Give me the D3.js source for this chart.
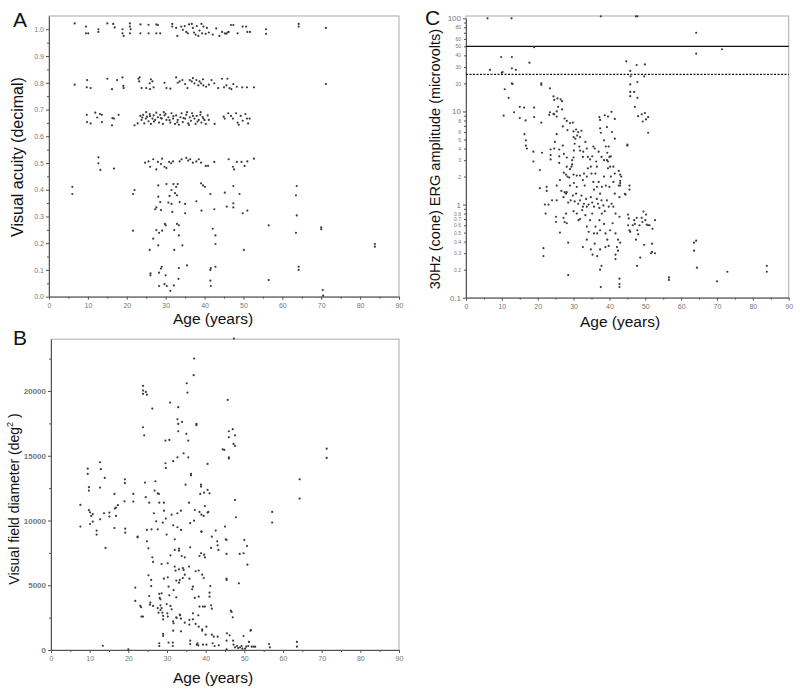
<!DOCTYPE html>
<html><head><meta charset="utf-8">
<script src="https://cdn.jsdelivr.net/npm/d3@7"></script>
<style>body{margin:0;background:#fff} svg{display:block;font-family:Arial,"Liberation Sans",sans-serif}</style>
</head><body><svg id="c" width="800" height="698"></svg>
<script>
// ---------- DATA ----------
const ageTicks = [0,10,20,30,40,50,60,70,80,90];
const acuityTicks = [0,0.1,0.2,0.3,0.4,0.5,0.6,0.7,0.8,0.9,1.0];
const fieldTicks = [0,5000,10000,15000,20000];
const ergMajor = [0.1,1,10,100];
const ergMinorLabels = [0.2,0.3,0.4,0.5,0.6,0.7,0.8,2,3,4,5,6,8,20,30,40,50,60,80];
const ergRefSolid = 50;
const ergRefDotted = 25;

// Panel A: [age, visual acuity]
const acuityData = [
[6.6,1.022],[9.5,1.01],[9.5,0.985],[10.1,0.985],[12.7,1.0],[12.7,0.99],[15,1.022],[16.5,1.02],[16.9,1.007],[18.9,1.0],[18.9,0.985],[19.2,0.975],[20.8,1.022],[20.8,1.01],[21,1.0],[20.8,0.985],[23.5,1.018],[23.5,0.985],[25.6,1.017],[25.6,0.985],[27.6,1.018],[28,1.016],[27.6,0.985],[28.6,0.985],[31.7,1.02],[31.7,1.01],[32.7,1.005],[33,0.975],[34,1.01],[34.4,0.998],[34.9,1.012],[35.3,0.99],[35.7,0.985],[36,1.018],[36.7,1.02],[37,1.005],[37.3,0.988],[37.7,0.98],[38,1.012],[38.4,0.975],[38.7,0.995],[39.2,1.02],[39.4,0.985],[39.7,1.01],[40.3,0.983],[40.6,1.005],[41.1,0.988],[42.1,0.98],[43,1.003],[43.8,0.975],[44.5,0.99],[45.2,0.985],[45.6,0.983],[45.9,0.988],[46.2,0.99],[46.8,1.016],[47.4,1.016],[48.5,0.985],[49.8,1.01],[50.7,1.01],[51,0.99],[51.7,0.99],[55.8,1.0],[55.8,0.983],[64.2,1.02],[64.2,1.01],[71.2,1.005],
[6.6,0.793],[9.8,0.81],[9.7,0.783],[10.7,0.78],[15,0.815],[16.2,0.776],[17.5,0.81],[18.9,0.82],[19.1,0.788],[19.2,0.78],[23,0.815],[23.2,0.805],[23.3,0.82],[23.8,0.78],[25,0.78],[25.9,0.798],[26.2,0.813],[26.6,0.805],[26.9,0.783],[26,0.776],[29.7,0.8],[30.2,0.78],[31.2,0.778],[32.7,0.82],[33.1,0.8],[33.6,0.805],[34.3,0.81],[35,0.795],[35.6,0.78],[36.2,0.81],[36.7,0.805],[37,0.817],[37.4,0.798],[37.9,0.81],[38.4,0.79],[38.7,0.805],[39.1,0.798],[39.6,0.813],[39.7,0.79],[40.4,0.785],[41.1,0.793],[41.8,0.81],[42.5,0.798],[43.5,0.78],[44.5,0.815],[45,0.783],[45.6,0.79],[45.9,0.815],[46.4,0.78],[46.9,0.776],[47.4,0.795],[48.3,0.785],[49.7,0.783],[50.9,0.783],[52.7,0.783],[71.2,0.795],
[9.7,0.68],[9.8,0.653],[10.7,0.648],[11.9,0.688],[12.4,0.67],[13.1,0.683],[13.6,0.68],[13.6,0.653],[16.3,0.668],[16.2,0.641],[16.7,0.666],[17.9,0.68],[22,0.641],[22.8,0.648],[23.5,0.676],[23.8,0.661],[24.2,0.68],[24.5,0.648],[24.9,0.666],[25.2,0.673],[25.6,0.656],[25.9,0.683],[26.2,0.646],[26.6,0.666],[26.9,0.678],[27.3,0.661],[27.6,0.688],[28,0.671],[28.3,0.651],[28.6,0.68],[29,0.666],[29.3,0.646],[29.7,0.678],[30.2,0.661],[30.7,0.671],[31.2,0.651],[31.5,0.686],[31.9,0.666],[32.4,0.646],[32.7,0.678],[33.1,0.661],[33.4,0.643],[33.8,0.671],[34.1,0.686],[34.4,0.653],[35,0.666],[35.3,0.68],[35.8,0.648],[36.2,0.671],[36.5,0.658],[36.8,0.686],[37.4,0.666],[37.7,0.646],[38,0.676],[38.5,0.661],[38.9,0.68],[39.2,0.651],[39.7,0.666],[40.3,0.646],[40.8,0.678],[41.1,0.661],[42.6,0.646],[44.9,0.673],[45.2,0.666],[46.1,0.686],[46.8,0.676],[47.3,0.666],[48.1,0.686],[48.5,0.651],[48.8,0.643],[49.3,0.676],[49.8,0.658],[50.5,0.683],[50.9,0.666],[51.2,0.648],[51.6,0.666],
[24,0.67],[26,0.675],[27,0.655],[28.8,0.668],[30,0.684],[31,0.66],[32,0.675],[33,0.652],[34.6,0.668],[36,0.642],[37,0.676],[38.2,0.655],[39.5,0.672],[40,0.66],[25,0.69],[29.5,0.69],[35.5,0.69],[39,0.69],
[12.7,0.521],[12.7,0.499],[13.2,0.474],[16.7,0.479],[24.7,0.501],[25.6,0.506],[26,0.486],[26.8,0.514],[27.6,0.476],[28,0.504],[28.8,0.496],[29.1,0.516],[29.7,0.486],[30.2,0.481],[30.9,0.504],[31.4,0.499],[31.9,0.506],[33.6,0.506],[34.1,0.514],[35.3,0.519],[35.8,0.509],[36.3,0.514],[37,0.501],[37.9,0.506],[38.5,0.514],[39.1,0.501],[40.3,0.489],[40.9,0.489],[42.5,0.504],[46.2,0.514],[47.3,0.486],[47.6,0.476],[48.3,0.504],[49.5,0.504],[50.3,0.489],[51,0.506],[52.7,0.516],
[6.0,0.411],[6.0,0.384],[21.6,0.384],[22,0.399],[21.6,0.247],[28.1,0.416],[28.1,0.374],[27.6,0.334],[27.3,0.327],[28.6,0.354],[28.8,0.324],[30.2,0.421],[30.7,0.352],[31,0.377],[31.5,0.399],[31.5,0.347],[31.7,0.317],[32,0.421],[32.4,0.387],[32.7,0.411],[32.9,0.379],[33.1,0.421],[33.6,0.354],[35,0.347],[35,0.312],[37.9,0.357],[39.1,0.424],[39.6,0.416],[40.1,0.411],[39.2,0.322],[41.5,0.384],[42.5,0.327],[45.2,0.389],[45.7,0.337],[47.4,0.414],[47.4,0.349],[47.4,0.334],[49,0.384],[49.8,0.312],[51,0.322],[63.7,0.414],[63.5,0.379],[63.7,0.304],
[26.8,0.217],[27.6,0.249],[28.3,0.239],[29.1,0.247],[29.8,0.272],[30,0.267],[32.2,0.249],[32.9,0.272],[33.4,0.267],[33.4,0.229],[34.3,0.192],[32.2,0.175],[28.1,0.192],[25.9,0.175],[42.1,0.254],[42.8,0.229],[42.8,0.197],[50.1,0.175],[56.5,0.267],[63.5,0.239],[70,0.259],[70,0.252],[83.8,0.197],[83.8,0.187],
[26.1,0.087],[26.1,0.08],[28.8,0.105],[29,0.112],[28.3,0.09],[30,0.08],[28.3,0.04],[29.7,0.047],[30.3,0.04],[31.2,0.022],[32.1,0.042],[33.3,0.067],[33.4,0.107],[35.5,0.117],[41.6,0.107],[41.5,0.1],[41.5,0.06],[41.6,0.04],[42.8,0.112],[64.2,0.112],[64.2,0.1],[56.5,0.062],[70.4,0.025],[70.5,0.004]
];

// Panel B: [age, visual field]
const fieldData = [
[7.6,11200],[7.6,9530],[9.5,14000],[9.5,13600],[9.8,12570],[9.8,12310],[9.8,10800],[10.1,9730],[10.1,10630],[10.4,10350],[10.8,9910],[10.8,10500],[11.8,9220],[11.8,8910],[12.7,14500],[12.9,13960],[12.7,12540],[12.7,10090],[13.7,10560],[13.9,13290],[13.4,330],[14.1,7880],[15.1,10610],[15.1,10300],[16.4,12050],[16.4,9420],[16.5,10920],[16.8,11000],[17.3,11180],[16.8,10350],[19.1,13180],[19.1,12880],[19,11480],[19.2,9370],[19.2,9060],[20,50],[21.3,12050],[21.3,11460],[21.8,4820],[21.8,3790],[22.4,8750],[22.4,8700],[23.1,3400],[23.3,3300],[23.4,2580],[23.8,2580],[23.8,20400],[23.8,20030],[23.8,19780],[24.5,19930],[24.8,19720],[23.8,17200],[24.1,16580],[24.3,12930],[24.5,11800],[24.8,9270],[24.8,8390],[25.2,7850],[25.2,5770],[25.4,11380],[25.9,4940],[25.4,4170],[25.7,3660],[25.6,3500],[26.4,3400],[25.9,5410],[26.2,18640],[26,9320],[26.2,7160],[26.4,6800],[26.6,10560],[26.8,12310],[27,13030],[27.2,9940],[27.6,12100],[27.9,12050],[28,11380],[27.6,9320],[28,4330],[28.1,4020],[27.6,3240],[27.8,2880],[28,520],[28,310],[28.6,4380],[28.3,3910],[28.3,3450],[28.6,3240],[28.3,3090],[28.8,2880],[29,2630],[29,2370],[29.2,5510],[28.6,6640],[28.9,9840],[29.2,10760],[29.2,11380],[29,1240],[29,1080],[29.6,16170],[29.6,14420],[29.7,14060],[29.7,10150],[29.9,8910],[29.9,3550],[30.1,2830],[30.2,2580],[30.4,570],[30.2,6700],[30.2,5610],[30.4,4890],[30.6,4220],[30.8,19110],[30.6,16220],[30.9,7310],[30.9,3400],[31.2,3140],[31.2,10450],[31.6,9630],[31.5,570],[31.5,310],[31.6,14580],[31.6,2210],[31.7,2060],[31.6,1490],[31.7,4630],[32,8550],[32,7730],[32,6440],[32.2,6130],[32.4,5360],[32.4,4070],[32.4,2520],[32.5,2470],[32.7,10560],[32.7,9480],[32.7,14880],[32.9,18750],[32.7,17820],[32.9,17460],[32.9,16890],[33.1,7830],[33.1,7670],[33.1,6230],[33.1,5200],[33.3,5410],[33.3,2730],[33.4,2680],[33.6,2420],[33.6,1440],[33.6,10760],[33.6,9270],[33.8,7260],[33.9,17610],[34.1,6330],[34.1,5560],[34.3,15190],[34.3,6180],[34.6,5820],[34.6,2110],[34.6,7160],[34.8,12770],[35,16690],[35.1,20600],[35.3,19880],[35.5,16170],[35.5,14880],[35.7,6440],[35.7,11380],[35.8,5510],[35.8,2320],[35.8,1960],[36,460],[36,720],[36,7930],[36,9790],[36.2,13600],[36.2,13490],[36.5,4690],[36.7,4890],[36.7,2830],[36.7,2370],[36.9,21220],[37,22510],[37,9990],[37.2,10810],[37.2,4020],[37.4,6080],[37.4,2010],[37.6,17460],[37.6,17360],[37.7,410],[37.9,520],[38.1,360],[38.1,2680],[38.2,1800],[38.2,6130],[38.2,4120],[38.4,10660],[38.4,7260],[38.4,3350],[38.6,12050],[38.8,12770],[38.8,12620],[38.8,7470],[38.9,10450],[38.9,9170],[38.9,9120],[39.1,5820],[39.1,1600],[39.1,1490],[39.3,3350],[39.3,410],[39.5,10350],[39.5,5560],[39.6,7360],[39.6,12150],[39.8,11120],[39.8,7160],[39.8,3350],[40,1180],[40.2,1800],[40.2,410],[40.5,14370],[40.5,12360],[40.5,10610],[40.7,10660],[41,12100],[41,4430],[41,4120],[41.2,4940],[41.4,3450],[41.6,3190],[41.4,7880],[41.6,8750],[41.6,1180],[41.8,520],[42.1,1030],[42.3,310],[42.6,9220],[43,8390],[43.1,8080],[43.3,7730],[43.1,1030],[43.4,360],[44.4,15500],[44.8,15450],[45,9530],[45.2,8550],[45.4,8500],[45.4,7420],[45.4,5510],[45.4,5410],[45.5,1290],[45.4,720],[45.4,50],[45.7,19310],[46,16890],[46,16430],[46,14880],[46,14780],[46.2,1130],[46.5,3040],[46.7,2940],[47,17050],[47,2520],[47.1,720],[47.2,15910],[47.6,15760],[47.6,16580],[47.6,11590],[47.8,10250],[47.2,410],[47.6,210],[48.1,310],[48.4,150],[48.6,5150],[48.8,7420],[48.9,210],[49.3,310],[49.5,100],[49.8,1080],[49.8,7470],[50,8500],[50.2,100],[50.5,260],[50.7,8030],[50.8,6590],[51,310],[51.2,620],[51.6,1490],[51.7,1540],[51.9,260],[52.4,260],[52.8,260],[56.4,460],[56.6,210],[57.2,10660],[57.2,9840],[63.6,620],[63.6,260],[64.3,13180],[64.3,11690],[71.3,15550],[71.3,14830],[47.3,24050]
];

// Panel C: [age, 30Hz cone ERG amplitude]
const ergData = [
[6,100],[12.7,100],[37.6,105],[47.4,105],[47.8,105],[19,49],[64.2,70],[64.2,41.7],[71.4,46.5],
[6.7,28],[9.8,38.4],[10,26],[10.2,26.5],[12.8,38.4],[12.8,29],[13.9,28],[17.7,33.4],[12.8,20],[13,19.7],[10.8,17.3],[11.9,14],[10.5,9],[13.4,9.8],[15,11.2],[16.2,11],[15,8.5],[16.6,8],[19,11],[19,8.7],[21,7.6],[21,20],[21,19.3],
[16.3,5.7],[16.7,4.9],[16.7,4.3],[17,4],[18.8,3.7],[18.8,2.9],[21.2,3.6],[20.6,2.35],[20.6,1.5],[22.5,1.55],[22.5,1.4],[21.6,0.34],[21.6,0.28],[22,1.0],[22.2,0.8],[23,1.0],
[23.4,17.7],[24.4,14.5],[24.6,13.3],[25.5,13.8],[25.7,11.2],[25.3,10],[26.4,13.5],[26.8,12.9],[26.8,10.5],[23.4,9.8],[23.2,9.2],[24.4,9.4],[25.3,8.8],[27.5,8.4],[28.1,7.9],[29,7.5],[28.3,6.3],[25.3,5.7],[24.8,4.7],[24.6,4.0],[23.6,3.9],[23.6,3.4],[23.6,3.05],[26,3.9],[26,3.3],[26,2.8],[27,4.3],[27.3,3.5],[28.1,3.2],[28.1,2.55],[27.3,2.2],[27.9,2.1],[28.3,2.0],[29,2.4],[29.4,2.55],[29.6,2.7],[30,3.2],[29.6,3.0],[30.1,3.8],[30.3,4.5],[30,5.3],[30.7,6.4],[31.3,6.0],[31.8,5.3],[32.2,6.2],[31,5.5],[31.6,4.2],[31.8,3.8],[32.7,3.7],[32.6,3.25],[33.3,4.7],[33.7,4.0],[34,3.25],[34.6,3.05],[34.8,2.55],[35.2,3.3],[35.5,4.2],[35.9,4.0],[36.3,2.9],[36.5,2.55],[36.1,2.15],[37,3.7],[37.8,3.25],[38.5,3.0],[39.3,3.0],[39,4.2],[39.8,4.2],[40,3.25],[39.6,2.9],[40.2,2.55],[41.1,2.55],[41.5,2.15],[42.6,2.3],[43,2.1],[43.3,2.0],[43,1.7],[42.6,1.6],
[29.8,7.6],[30,6.1],[30.5,5.1],[27,6.9],
[37.2,8.7],[37.4,8.1],[38.7,9.1],[39.6,8.8],[40.6,9.9],[41.5,8.3],[37.4,6.6],[37.6,5.9],[38.5,4.9],[40.7,6.0],[41.5,5.1],[39.3,6.8],
[45,4.4],[45,4.3],[39.4,3.6],[40.4,3.3],
[28.8,1.95],[29,1.6],[30,2.1],[30.1,1.7],[30.9,2.05],[30.9,1.55],[31.8,2.05],[32.6,1.83],[32.9,2.15],[33.1,1.6],[33.7,2.0],[34,2.45],[35,2.15],[35.5,1.75],[35.7,1.45],[36.5,1.55],[37,1.75],[37.4,1.31],[37.9,1.55],[38.5,2.0],[39,1.6],[39.6,2.45],[40.4,2.0],[41.1,1.75],[40,1.55],
[25.3,1.6],[26.2,1.83],[26.6,1.4],[25.3,1.11],[24,1.11],[27.2,1.2],[27.5,1.36],[27.9,1.31],[28.1,1.36],[28.5,1.05],[29.2,1.11],[29.8,1.25],[30.3,1.08],[30.7,1.31],[31.3,1.02],[31.8,1.11],[32.2,1.25],[32.6,0.95],[32.9,1.02],[33.5,1.15],[33.7,0.95],[34.2,1.0],[34.8,1.2],[35.2,1.05],[35.7,0.95],[36.5,1.15],[36.8,1.02],[37.2,0.92],[37.8,1.11],[38.3,0.98],[38.7,0.85],[39.3,1.11],[39.8,0.95],[40.6,1.02],[41.1,0.95],[41.7,0.8],[41.5,1.31],[42.8,0.74],[44.3,1.3],[44.5,1.28],
[30,0.85],[30.9,0.8],[31.4,0.68],[31.8,0.7],[32.4,0.87],[33.3,0.77],[33.7,0.58],[34.2,0.51],[34.6,0.68],[35.2,0.8],[35.7,0.49],[36.1,0.58],[36.6,0.49],[37.2,0.68],[37.4,0.53],[37.9,0.8],[38.5,0.62],[38.9,0.49],[39.4,0.42],[40.2,0.53],[40.9,0.63],[41.7,0.49],[42.4,0.42],[27.9,0.8],[27.2,0.72],[26.2,0.5],[25.1,0.74],[25.1,0.65],[27.5,0.65],[28.1,0.63],[28.5,0.39],[32.6,0.35],[33.7,0.42],[34.8,0.33],[35.9,0.38],[35.3,0.29],[37.4,0.33],[36.6,0.28],[37.8,0.22],[38.9,0.35],[39.8,0.36],[41.7,0.26],[42.1,0.35],[42.4,0.32],[37.4,0.2],[28.5,0.175],[37.6,0.13],[42.8,0.16],[42.8,0.14],[42.8,0.13],
[45.2,0.78],[45.4,0.71],[45.2,0.6],[45.6,0.53],[45.8,0.51],[46.5,0.6],[46.9,0.68],[47.1,0.62],[47.6,0.72],[47.8,0.53],[48,0.48],[47.4,0.42],[48.4,0.6],[49,0.72],[49.2,0.65],[49.5,0.84],[50.2,0.78],[50,0.68],[50.4,0.61],[50.8,0.6],[51.2,0.6],[52,0.55],[52.7,0.68],[49.7,0.37],[48.6,0.27],[47.7,0.22],[51.9,0.31],[51.6,0.3],[52.7,0.3],[51.9,0.38],
[43,0.39],[41.7,0.29],
[44.7,34.5],[45.8,27.2],[45.9,23.8],[45.8,19.5],[45.8,16.2],[45.8,14.6],[46.9,16.2],[47.1,11.2],[47.6,31.5],[47.8,20.7],[47.8,14],[48,8.9],[49,9.3],[49.3,7.8],[49.9,32],[49.7,23.8],[49.9,9.6],[50.2,8.2],[50.8,8.7],[50.8,5.9],
[24.6,9.3],[42.8,1.2],[43,1.6],[43,1.8],[45.6,1.6],[45.6,1.45],
[56.6,0.165],[56.6,0.155],[63.6,0.39],[64.2,0.41],[63.6,0.32],[64.4,0.21],[70,0.15],[72.9,0.19],[83.9,0.22],[83.9,0.19]
];

// ---------- DRAW ----------
const svg = d3.select("#c");
const AXIS = "#555", FRAME = "#aaa", LBL = "#777", DOT = "#3c3c3c";

function styleAxis(g, fs) {
  g.select(".domain").attr("stroke", AXIS);
  g.selectAll(".tick line").attr("stroke", AXIS);
  g.selectAll(".tick text").attr("fill", LBL).attr("font-size", fs).attr("font-family", "Arial, 'Liberation Sans', sans-serif");
}

function panelLinear(opts) {
  const {x0,x1,y0,top,xs} = opts;
  svg.append("rect").attr("x", x0).attr("y", top).attr("width", x1 - x0).attr("height", y0 - top)
    .attr("fill", "none").attr("stroke", FRAME).attr("stroke-width", 1);
  svg.append("g").attr("transform", `translate(0,${y0})`)
    .call(d3.axisBottom(xs).tickValues(d3.range(5, 90, 10)).tickSize(2).tickFormat(""))
    .call(g => { g.select(".domain").remove(); g.selectAll("line").attr("stroke", AXIS); });
  const gx = svg.append("g").attr("transform", `translate(0,${y0})`)
    .call(d3.axisBottom(xs).tickValues(ageTicks).tickSize(3).tickSizeOuter(0).tickPadding(3));
  styleAxis(gx, 7);
  return gx;
}

// Panel A
const xA = d3.scaleLinear([0, 90], [49, 399]);
const yA = d3.scaleLinear([0, 1.05], [296.7, 15.9]);
panelLinear({x0:49, x1:399, y0:296.7, top:16, xs:xA});
svg.append("g").attr("transform", "translate(49,0)")
  .call(d3.axisLeft(yA).tickValues(d3.range(0.05, 1.0, 0.1)).tickSize(2).tickFormat(""))
  .call(g => { g.select(".domain").remove(); g.selectAll("line").attr("stroke", AXIS); });
const gyA = svg.append("g").attr("transform", "translate(49,0)")
  .call(d3.axisLeft(yA).tickValues(acuityTicks).tickFormat(d3.format(".1f")).tickSize(3).tickSizeOuter(0).tickPadding(2));
styleAxis(gyA, 7);
svg.append("g").selectAll("circle").data(acuityData).join("circle")
  .attr("cx", d => xA(d[0])).attr("cy", d => yA(d[1])).attr("r", 1.1).attr("fill", DOT);

// Panel B
const xB = d3.scaleLinear([0, 90], [51, 399]);
const yB = d3.scaleLinear([0, 24000], [650, 339.2]);
panelLinear({x0:51, x1:399, y0:650, top:339.2, xs:xB});
svg.append("g").attr("transform", "translate(51,0)")
  .call(d3.axisLeft(yB).tickValues(d3.range(2500, 24000, 5000)).tickSize(2).tickFormat(""))
  .call(g => { g.select(".domain").remove(); g.selectAll("line").attr("stroke", AXIS); });
const gyB = svg.append("g").attr("transform", "translate(51,0)")
  .call(d3.axisLeft(yB).tickValues(fieldTicks).tickFormat(d3.format("d")).tickSize(3).tickSizeOuter(0).tickPadding(2));
styleAxis(gyB, 8);
gyB.selectAll(".tick text").attr("font-weight", "bold");
svg.append("g").selectAll("circle").data(fieldData).join("circle")
  .attr("cx", d => xB(d[0])).attr("cy", d => yB(d[1])).attr("r", 1.1).attr("fill", DOT);

// Panel C
const xC = d3.scaleLinear([0, 90], [466, 788.7]);
const yC = d3.scaleLog([0.1, 100], [297.7, 18.3]);
panelLinear({x0:466, x1:788.7, y0:297.7, top:16, xs:xC});
const allLog = [];
[0.1, 1, 10].forEach(d => { for (let k = 2; k <= 9; k++) allLog.push(+(d * k).toPrecision(3)); });
svg.append("g").attr("transform", "translate(466,0)")
  .call(d3.axisLeft(yC).tickValues(allLog).tickSize(2).tickFormat(""))
  .call(g => { g.select(".domain").remove(); g.selectAll("line").attr("stroke", AXIS); });
const gyC = svg.append("g").attr("transform", "translate(466,0)")
  .call(d3.axisLeft(yC).tickValues(ergMajor).tickFormat(d => String(d)).tickSize(3).tickSizeOuter(0).tickPadding(2));
styleAxis(gyC, 8);
svg.append("g").attr("transform", "translate(466,0)")
  .call(d3.axisLeft(yC).tickValues(ergMinorLabels).tickFormat(d => String(d)).tickSize(0).tickPadding(5))
  .call(g => { g.select(".domain").remove(); g.selectAll("text").attr("fill", LBL).attr("font-size", 5); });
svg.append("line").attr("x1", xC(0)).attr("x2", xC(90)).attr("y1", yC(ergRefSolid)).attr("y2", yC(ergRefSolid))
  .attr("stroke", "#111").attr("stroke-width", 1.4);
svg.append("line").attr("x1", xC(0)).attr("x2", xC(90)).attr("y1", yC(ergRefDotted)).attr("y2", yC(ergRefDotted))
  .attr("stroke", "#111").attr("stroke-width", 1.4).attr("stroke-dasharray", "2,1.5");
svg.append("g").selectAll("circle").data(ergData).join("circle")
  .attr("cx", d => xC(d[0])).attr("cy", d => yC(d[1])).attr("r", 1.1).attr("fill", DOT);

// ---------- TEXT ----------
const T = (x, y, s, fs, rot, anchor) => svg.append("text").attr("x", x).attr("y", y)
  .attr("font-size", fs).attr("fill", "#111").attr("text-anchor", anchor || "middle")
  .attr("transform", rot ? `rotate(-90,${x},${y})` : null).text(s);

T(13, 27, "A", 21, false, "start");
T(13, 345, "B", 21, false, "start");
T(425, 25, "C", 21, false, "start");

T(213, 324, "Age (years)", 15.5);
T(213, 683, "Age (years)", 15.5);
T(620, 327, "Age (years)", 15.5);

T(23, 157, "Visual acuity (decimal)", 16, true);
T(440, 159, "30Hz (cone) ERG amplitude (microvolts)", 14.5, true);
const tb = svg.append("text").attr("x", 19).attr("y", 499).attr("font-size", 14).attr("fill", "#111")
  .attr("text-anchor", "middle").attr("transform", "rotate(-90,19,499)");
tb.append("tspan").text("Visual field diameter (deg");
tb.append("tspan").attr("font-size", 9).attr("dy", -6).text("2");
tb.append("tspan").attr("dy", 6).text(" )");
</script></body></html>
